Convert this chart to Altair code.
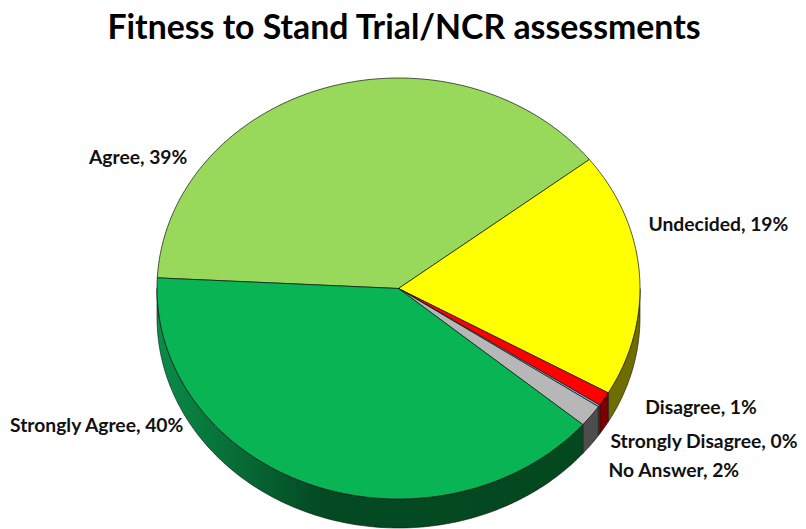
import math
import altair as alt
import pandas as pd

# Data
names = ["Agree", "Undecided", "Disagree", "Strongly Disagree", "No Answer", "Strongly Agree"]
shares = [38.7, 18.75, 1.08, 0.15, 1.7, 39.62]
top_colors = ["#98D85B", "#FFFF00", "#FF0000", "#8EA9DB", "#B7B7B7", "#08B454"]
wall_colors = ["#4F7A20", "#6E6E00", "#7A0000", "#3C4A5E", "#4D4D4D", "#03481F"]

# Picture geometry (tilted pie, in page pixels)
CX, CY, RX, RY, DEPTH = 398.5, 288.5, 241.5, 210.5, 29.0
START = 177.1
TOP = 58
BOTTOM = 529
LEFT = 8
RIGHT = 798

label_offsets = {
    "Agree": (-188, 70.5),
    "Undecided": (79, -48.5),
    "Disagree": (97, 9.5),
    "Strongly Disagree": (105, 36.5),
    "No Answer": (83, 55),
    "Strongly Agree": (-213, -58),
}


def rim(angle, drop=0.0):
    a = math.radians(angle)
    return CX + RX * math.cos(a), CY - RY * math.sin(a) + drop


def arc_angles(a0, a1):
    n = max(2, int(abs(a1 - a0)) + 2)
    return [a0 + (a1 - a0) * i / (n - 1) for i in range(n)]


top_rows, wall_rows, label_rows = [], [], []
angle = START
for name, share, top, wall in zip(names, shares, top_colors, wall_colors):
    a0, a1 = angle, angle - share * 3.6
    angle = a1
    pts = [(CX, CY)] + [rim(a) for a in arc_angles(a0, a1)] + [(CX, CY)]
    for i, (x, y) in enumerate(pts):
        top_rows.append(dict(slice=name, i=i, x=x, y=y, color=top))
    # visible front wall: only the part of the rim on the lower half
    w0, w1 = min(a0, 0.0), max(a1, -180.0)
    if w0 > w1:
        angles = arc_angles(w0, w1)
        ring = [rim(a) for a in angles] + [rim(a, DEPTH) for a in reversed(angles)]
        ring.append(ring[0])
        for i, (x, y) in enumerate(ring):
            wall_rows.append(dict(slice=name, i=i, x=x, y=y, color=wall))
    mx, my = rim((a0 + a1) / 2)
    ox, oy = label_offsets[name]
    label_rows.append(dict(x=mx + ox, y=my + oy, text=f"{name}, {round(share)}%"))

top_df = pd.DataFrame(top_rows)
wall_df = pd.DataFrame(wall_rows)
label_df = pd.DataFrame(label_rows)

X = alt.X("x:Q", scale=alt.Scale(domain=[LEFT, RIGHT], nice=False, zero=False), axis=None)
Y = alt.Y("y:Q", scale=alt.Scale(domain=[BOTTOM, TOP], nice=False, zero=False), axis=None)


def polygons(df, gradient=None, width=0.7, stroke="#111111"):
    kw = dict(stroke=stroke, strokeWidth=width, clip=False, interpolate="linear")
    if gradient is not None:
        kw["fill"] = gradient
    enc = dict(x=X, y=Y, detail="slice:N", order="i:Q")
    if gradient is None:
        enc["fill"] = alt.Fill("color:N", scale=None)
    return alt.Chart(df).mark_line(**kw).encode(**enc)


sa_gradient = alt.Gradient(
    gradient="linear",
    x1=0, x2=1, y1=0, y2=0,
    stops=[
        alt.GradientStop(offset=0.0, color="#0A8C48"),
        alt.GradientStop(offset=0.2, color="#066A35"),
        alt.GradientStop(offset=0.38, color="#034A22"),
        alt.GradientStop(offset=1.0, color="#03481F"),
    ],
)

walls = polygons(wall_df[wall_df["slice"] != "Strongly Agree"], width=0.6)
sa_wall = polygons(wall_df[wall_df["slice"] == "Strongly Agree"], gradient=sa_gradient, width=0.6)
tops = polygons(top_df)
labels = alt.Chart(label_df).mark_text(
    font="Lato", fontSize=19.3, fontWeight="bold", color="#111111", align="center", baseline="middle"
).encode(x=X, y=Y, text="text:N")

chart = (
    alt.layer(walls, sa_wall, tops, labels)
    .properties(
        width=RIGHT - LEFT,
        height=BOTTOM - TOP,
        padding={"left": 0, "top": TOP - 8, "right": 0, "bottom": 0},
        autosize=alt.AutoSizeParams(type="none"),
        background="#FFFFFF",
        title=alt.TitleParams(
            "Fitness to Stand Trial/NCR assessments",
            font="Lato", fontSize=33.8, fontWeight="bold", color="#000000",
            anchor="middle", offset=12, dx=1,
        ),
    )
    .configure_view(strokeWidth=0, stroke="transparent")
)

chart.save("out.html", embed_options={"renderer": "svg", "actions": False})
